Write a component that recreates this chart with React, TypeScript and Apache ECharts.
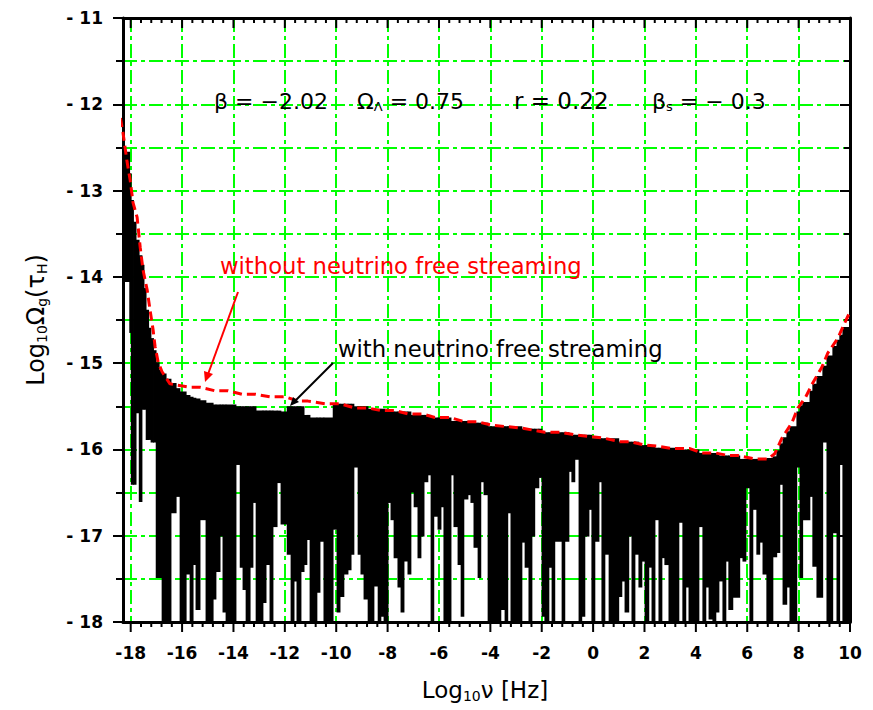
import React, { useEffect, useRef } from 'react';
import * as echarts from 'echarts';

// ---------------- data ----------------
const X_MIN = -18.3;
const X_MAX = 10;
const Y_MIN = -18;
const Y_MAX = -11;

const xMajorTicks = [-18, -16, -14, -12, -10, -8, -6, -4, -2, 0, 2, 4, 6, 8, 10];

// Black curve "with neutrino free streaming": rapidly oscillating spectrum,
// read as vertical columns: left edge (log10 nu), upper value, lower value.
const colStart = [
  -18.30, -18.04, -17.98, -17.89, -17.79, -17.67, -17.56, -17.48, -17.40, -17.30,
  -17.21, -17.11, -17.01, -16.89, -16.78, -16.62,
  -16.43, -16.23, -16.08, -15.84, -15.69, -15.57, -15.46, -15.30, -15.07, -14.79,
  -14.68, -14.52, -14.41, -14.29, -13.90, -13.74, -13.63, -13.51, -13.35, -13.24,
  -13.12, -12.85, -12.73, -12.58, -12.46, -12.30, -12.15, -11.91, -11.76, -11.64,
  -11.53, -11.37, -11.25, -11.14, -11.02, -10.75, -10.63, -10.48, -10.12, -9.97,
  -9.85, -9.70, -9.54, -9.42, -9.31, -9.15, -9.04, -8.92, -8.76, -8.53,
  -8.37, -8.26, -8.14, -7.98, -7.87, -7.75, -7.60, -7.48, -7.36, -7.21,
  -7.09, -6.97, -6.82, -6.70, -6.58, -6.43, -6.31, -6.20, -6.04, -5.92,
  -5.81, -5.53, -5.42, -5.26, -5.14, -5.03, -4.87, -4.76, -4.64, -4.48,
  -4.37, -4.25, -4.09, -3.59, -3.43, -3.32, -3.20, -2.77, -2.65, -2.50,
  -2.38, -2.27, -2.11, -1.99, -1.88, -1.72, -1.60, -1.49, -1.21, -1.10,
  -0.94, -0.83, -0.71, -0.55, -0.44, -0.32, -0.16, -0.05, 0.07, 0.23,
  0.34, 0.46, 0.62, 1.00, 1.12, 1.24, 1.39, 1.51, 1.63, 1.78,
  1.90, 2.02, 2.17, 2.29, 2.41, 2.56, 2.68, 2.79, 2.95, 3.34,
  3.49, 3.61, 3.73, 4.12, 4.27, 4.39, 4.51, 4.66, 4.78, 4.90,
  5.05, 5.17, 5.28, 5.44, 5.71, 5.83, 5.95, 6.10, 6.22, 6.37,
  6.49, 6.61, 6.76, 7.00, 7.15, 7.27, 7.39, 7.54, 7.66, 7.93,
  8.05, 8.16, 8.44, 8.55, 8.71, 8.94, 9.10, 9.33, 9.49, 9.60, 9.72,
];
const colEndLast = 9.96;

const colTop = [
  -12.55, -12.80, -13.11, -13.36, -13.57, -13.75, -13.86, -14.13, -14.38, -14.59,
  -14.71, -14.85, -14.99, -15.08, -15.12, -15.18,
  -15.23, -15.29, -15.33, -15.37, -15.39, -15.40, -15.41, -15.43, -15.46, -15.48,
  -15.48, -15.48, -15.48, -15.48, -15.50, -15.50, -15.50, -15.50, -15.50, -15.50,
  -15.55, -15.55, -15.55, -15.55, -15.55, -15.55, -15.56, -15.50, -15.50, -15.50,
  -15.50, -15.50, -15.60, -15.60, -15.63, -15.63, -15.63, -15.63, -15.47, -15.47,
  -15.47, -15.47, -15.47, -15.47, -15.50, -15.50, -15.50, -15.50, -15.53, -15.53,
  -15.53, -15.53, -15.53, -15.56, -15.56, -15.56, -15.56, -15.56, -15.56, -15.56,
  -15.60, -15.60, -15.60, -15.60, -15.60, -15.60, -15.63, -15.63, -15.63, -15.63,
  -15.63, -15.67, -15.67, -15.67, -15.67, -15.67, -15.67, -15.67, -15.69, -15.69,
  -15.69, -15.69, -15.73, -15.73, -15.73, -15.73, -15.73, -15.76, -15.76, -15.76,
  -15.76, -15.76, -15.76, -15.80, -15.80, -15.80, -15.80, -15.80, -15.80, -15.80,
  -15.83, -15.83, -15.83, -15.83, -15.83, -15.83, -15.83, -15.87, -15.87, -15.87,
  -15.87, -15.87, -15.87, -15.91, -15.91, -15.91, -15.91, -15.91, -15.91, -15.95,
  -15.95, -15.95, -15.95, -15.95, -15.98, -15.98, -15.98, -15.98, -15.98, -16.00,
  -16.00, -16.00, -16.00, -16.04, -16.04, -16.04, -16.04, -16.04, -16.04, -16.07,
  -16.07, -16.07, -16.07, -16.07, -16.11, -16.11, -16.11, -16.11, -16.11, -16.11,
  -16.11, -16.11, -16.10, -16.08, -16.01, -15.93, -15.86, -15.79, -15.73, -15.56,
  -15.49, -15.45, -15.32, -15.24, -15.15, -15.03, -14.91, -14.80, -14.73, -14.67, -14.58,
];

const colBottom = [
  -14.06, -14.65, -16.41, -16.41, -15.58, -16.61, -15.54, -15.54, -15.89, -15.89,
  -15.92, -15.92, -17.49, -17.49, -18.00, -18.00,
  -16.74, -16.55, -18.00, -17.45, -18.00, -17.34, -17.86, -16.82, -18.00, -17.74,
  -17.42, -17.01, -17.89, -18.00, -16.18, -17.37, -17.63, -18.00, -17.37, -16.62,
  -18.00, -17.78, -17.34, -18.00, -16.90, -16.39, -16.87, -17.22, -18.00, -17.53,
  -18.00, -17.42, -17.34, -17.05, -18.00, -17.66, -17.07, -18.00, -16.93, -17.89,
  -17.71, -17.45, -17.40, -17.22, -16.21, -17.22, -17.45, -17.74, -18.00, -17.59,
  -18.00, -17.94, -18.00, -16.62, -16.82, -17.26, -17.60, -17.89, -17.30, -17.45,
  -16.50, -16.67, -17.26, -17.01, -16.38, -16.30, -18.00, -16.78, -16.93, -16.67,
  -18.00, -16.30, -16.90, -17.34, -17.94, -16.58, -16.53, -16.62, -17.14, -17.49,
  -16.38, -16.53, -18.00, -17.86, -18.00, -16.74, -18.00, -17.08, -17.37, -18.00,
  -17.01, -16.45, -16.33, -17.94, -18.00, -17.37, -18.00, -17.07, -18.00, -17.07,
  -16.26, -16.38, -16.12, -18.00, -17.94, -17.01, -16.70, -18.00, -17.07, -16.38,
  -18.00, -17.22, -18.00, -17.71, -17.53, -17.89, -17.01, -18.00, -17.22, -17.60,
  -17.30, -18.00, -17.37, -18.00, -16.82, -18.00, -17.26, -17.34, -18.00, -16.85,
  -18.00, -17.60, -18.00, -16.90, -18.00, -17.60, -17.97, -18.00, -17.89, -17.53,
  -18.00, -17.30, -17.86, -17.72, -17.26, -17.30, -16.45, -18.00, -16.70, -17.22,
  -17.08, -17.45, -18.00, -17.25, -17.20, -16.41, -17.80, -17.60, -18.00, -16.21,
  -17.49, -16.82, -16.55, -17.36, -17.72, -15.92, -18.00, -16.97, -18.00, -16.18, -18.00,
];

// Red dashed curve "without neutrino free streaming"
const redX = [
  -18.40, -18.30, -18.14, -18.02, -17.91, -17.75, -17.63, -17.52, -17.36, -17.25,
  -17.13, -17.05, -16.93, -16.78, -16.47, -15.69, -15.30, -14.72, -14.21, -13.67,
  -13.16, -12.58, -11.99, -11.49, -11.10, -10.44, -9.85, -9.27, -8.76, -8.26,
  -7.71, -7.17, -6.62, -6.16, -5.57, -4.99, -4.48, -3.94, -2.85, -1.88,
  -1.29, -0.71, -0.12, 0.42, 1.04, 1.43, 2.02, 2.48, 3.07, 3.77,
  4.23, 4.74, 5.25, 5.63, 6.30, 6.80, 7.07, 7.35, 7.74, 7.97,
  8.28, 8.55, 8.90, 9.14, 9.53, 9.80, 9.99,
];
const redY = [
  -12.16, -12.33, -12.67, -12.88, -13.14, -13.31, -13.66, -13.92, -14.15, -14.38,
  -14.61, -14.81, -14.99, -15.10, -15.24, -15.28, -15.28, -15.32, -15.32, -15.36,
  -15.36, -15.39, -15.39, -15.44, -15.44, -15.47, -15.47, -15.52, -15.52, -15.55,
  -15.55, -15.59, -15.59, -15.63, -15.63, -15.68, -15.68, -15.72, -15.75, -15.80,
  -15.80, -15.83, -15.85, -15.87, -15.91, -15.91, -15.95, -15.96, -15.99, -15.99,
  -16.04, -16.04, -16.07, -16.07, -16.11, -16.11, -16.05, -15.87, -15.69, -15.52,
  -15.39, -15.23, -15.05, -14.88, -14.71, -14.53, -14.41,
];

// ---------------- styling ----------------
const GREEN = '#00ff00';
const FONT = 'DejaVu Sans';
const gridLine = { color: GREEN, width: 2, type: [14, 4, 4, 4] as number[] };
const axisLineStyle = { color: '#000', width: 3 };
const tickStyle = { color: '#000', width: 2 };

export default function App() {
  const ref = useRef<HTMLDivElement>(null);

  useEffect(() => {
    if (!ref.current) return;
    const chart = echarts.init(ref.current, null, { renderer: 'svg' });

    const xMinorTicks: number[] = [];
    for (let k = 0; k <= 70; k++) {
      const v = Math.round((-18 + 0.4 * k) * 10) / 10;
      if (Math.abs(v % 2) > 1e-6) xMinorTicks.push(v);
    }

    const columns = colStart.map((x0, i) => [
      x0,
      i + 1 < colStart.length ? colStart[i + 1] : colEndLast,
      colTop[i],
      colBottom[i],
    ]);
    const redData = redX.map((x, i) => [x, redY[i]]);

    const mainRich = (size: number, color: string) => ({
      a: { fontSize: size, fontFamily: FONT, fill: color, color },
      s: { fontSize: Math.round(size * 0.6), fontFamily: FONT, fill: color, color, padding: [Math.round(size * 0.5), 0, 0, 0] },
    });

    const option: any = {
      animation: false,
      backgroundColor: '#ffffff',
      textStyle: { fontFamily: FONT },
      grid: { left: 123, right: 23, top: 18, bottom: 88, containLabel: false, outerBoundsMode: 'none' },
      xAxis: [
        {
          type: 'value', position: 'bottom', min: X_MIN, max: X_MAX,
          axisLine: { show: true, onZero: false, lineStyle: axisLineStyle },
          axisTick: { show: false, customValues: xMajorTicks },
          axisLabel: {
            show: true, customValues: xMajorTicks, margin: 22, color: '#000',
            fontSize: 17, fontWeight: 'bold', fontFamily: FONT,
            formatter: (v: number) => String(v),
          },
          splitLine: { show: true, lineStyle: gridLine },
        },
        {
          type: 'value', position: 'top', min: X_MIN, max: X_MAX,
          axisLine: { show: true, onZero: false, lineStyle: axisLineStyle },
          axisTick: { show: false },
          axisLabel: { show: false },
          splitLine: { show: false },
        },
      ],
      yAxis: [
        {
          type: 'value', position: 'left', min: Y_MIN, max: Y_MAX, interval: 1,
          axisLine: { show: true, onZero: false, lineStyle: axisLineStyle },
          axisTick: { show: true, inside: false, length: 10, lineStyle: tickStyle },
          minorTick: { show: true, splitNumber: 2, length: 7, lineStyle: tickStyle },
          axisLabel: {
            show: true, margin: 20, color: '#000', fontSize: 17, fontWeight: 'bold', fontFamily: FONT,
            formatter: (v: number) => '- ' + Math.abs(v),
          },
          splitLine: { show: true, lineStyle: gridLine },
          minorSplitLine: { show: true, lineStyle: gridLine },
        },
        {
          type: 'value', position: 'right', min: Y_MIN, max: Y_MAX, interval: 1,
          axisLine: { show: true, onZero: false, lineStyle: axisLineStyle },
          axisTick: { show: true, inside: true, length: 10, lineStyle: tickStyle },
          minorTick: { show: true, splitNumber: 2, length: 6, lineStyle: tickStyle },
          axisLabel: { show: false },
          splitLine: { show: false },
        },
      ],
      series: [
        {
          type: 'custom',
          name: 'with neutrino free streaming',
          xAxisIndex: 0, yAxisIndex: 0,
          silent: true,
          z: 3,
          encode: { x: [0, 1], y: [2, 3] },
          data: columns,
          renderItem: (params: any, api: any) => {
            const a = api.coord([api.value(0), api.value(2)]);
            const b = api.coord([api.value(1), api.value(3)]);
            return {
              type: 'rect',
              shape: { x: a[0] - 0.4, y: a[1], width: b[0] - a[0] + 0.8, height: b[1] - a[1] },
              style: { fill: '#000' },
            };
          },
        },
        {
          type: 'line',
          name: 'without neutrino free streaming',
          xAxisIndex: 0, yAxisIndex: 0,
          data: redData,
          symbol: 'none',
          clip: false,
          silent: true,
          z: 4,
          lineStyle: { color: '#ff0000', width: 3, type: [9, 5] },
        },
      ],
    };

    chart.setOption(option);

    // x-axis ticks (major every 2, minor every 0.4) on bottom (outward) and top (inward)
    const yTopPx = chart.convertToPixel({ yAxisIndex: 0 }, Y_MAX) as number;
    const yBotPx = chart.convertToPixel({ yAxisIndex: 0 }, Y_MIN) as number;
    const tickEls: any[] = [];
    const addTicks = (vals: number[], len: number) => {
      vals.forEach((v) => {
        const px = chart.convertToPixel({ xAxisIndex: 0 }, v) as number;
        tickEls.push({
          type: 'line', silent: true, z: 20,
          shape: { x1: px, y1: yBotPx, x2: px, y2: yBotPx + len },
          style: { stroke: '#000', lineWidth: 2 },
        });
        tickEls.push({
          type: 'line', silent: true, z: 20,
          shape: { x1: px, y1: yTopPx, x2: px, y2: yTopPx + len },
          style: { stroke: '#000', lineWidth: 2 },
        });
      });
    };
    addTicks(xMajorTicks, 10);
    addTicks(xMinorTicks, 5);

    const graphic: any[] = [
      ...tickEls,
      {
        type: 'text', x: 36, y: 320, rotation: Math.PI / 2,
        style: {
          text: '{a|Log}{s|10}{a|Ω}{s|g}{a|(τ}{s|H}{a|)}',
          rich: mainRich(24, '#000'), align: 'center', verticalAlign: 'middle',
        },
      },
      {
        type: 'text', x: 485, y: 690,
        style: {
          text: '{a|Log}{s|10}{a|ν [Hz]}',
          rich: mainRich(23, '#000'), align: 'center', verticalAlign: 'middle',
        },
      },
      {
        type: 'text', x: 214, y: 101,
        style: { text: '{a|β = −2.02}', rich: mainRich(22, '#000'), align: 'left', verticalAlign: 'middle' },
      },
      {
        type: 'text', x: 357, y: 101,
        style: { text: '{a|Ω}{s|Λ}{a| = 0.75}', rich: mainRich(22, '#000'), align: 'left', verticalAlign: 'middle' },
      },
      {
        type: 'text', x: 514, y: 101,
        style: { text: '{a|r = 0.22}', rich: mainRich(23, '#000'), align: 'left', verticalAlign: 'middle' },
      },
      {
        type: 'text', x: 652, y: 101,
        style: { text: '{a|β}{s|s}{a| = − 0.3}', rich: mainRich(22, '#000'), align: 'left', verticalAlign: 'middle' },
      },
      {
        type: 'text', x: 220, y: 266,
        style: {
          text: 'without neutrino free streaming', fill: '#ff0000',
          fontSize: 22.7, fontFamily: FONT, align: 'left', verticalAlign: 'middle',
        },
      },
      {
        type: 'text', x: 338, y: 349,
        style: {
          text: 'with neutrino free streaming', fill: '#000',
          fontSize: 22.7, fontFamily: FONT, align: 'left', verticalAlign: 'middle',
        },
      },
      {
        type: 'line', shape: { x1: 238, y1: 292, x2: 207, y2: 377 },
        style: { stroke: '#ff0000', lineWidth: 2 }, z: 10,
      },
      {
        type: 'polygon', shape: { points: [[205, 382], [213, 374], [204, 371]] },
        style: { fill: '#ff0000' }, z: 10,
      },
      {
        type: 'line', shape: { x1: 333, y1: 363, x2: 294, y2: 402 },
        style: { stroke: '#000', lineWidth: 2 }, z: 10,
      },
      {
        type: 'polygon', shape: { points: [[290, 406], [299, 402], [293, 397]] },
        style: { fill: '#000' }, z: 10,
      },
    ];

    chart.setOption({ graphic });
    return () => chart.dispose();
  }, []);

  return (
    <div
      ref={ref}
      style={{ position: 'fixed', left: 0, top: 0, width: 873, height: 710, background: '#fff' }}
    />
  );
}
